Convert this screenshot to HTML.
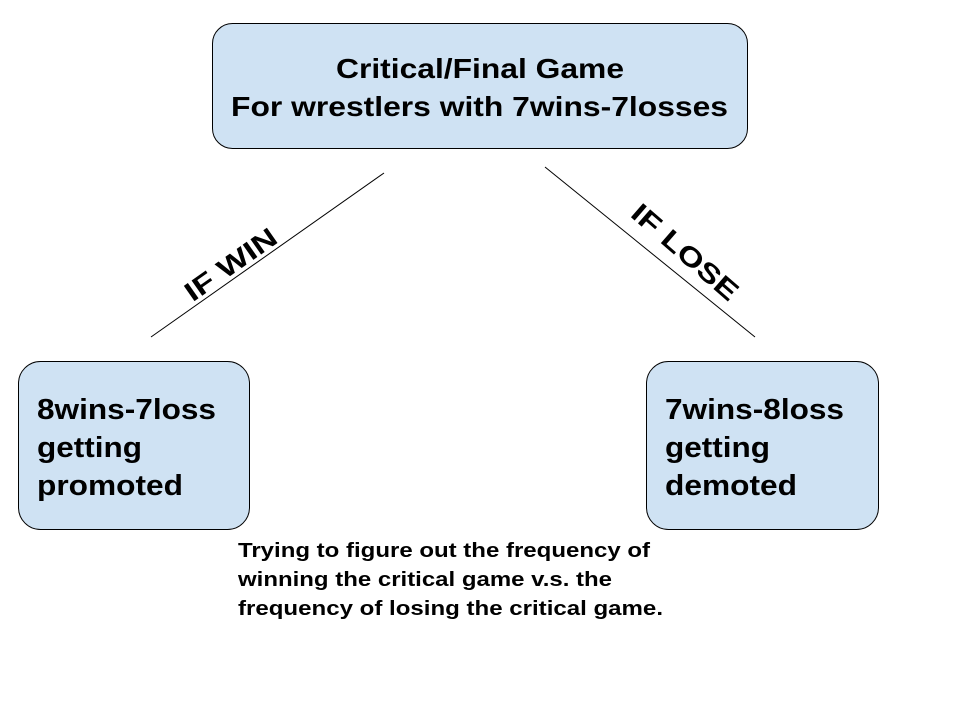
<!DOCTYPE html>
<html><head><meta charset="utf-8"><style>
body{margin:0;background:#fff;}
svg{display:block;}
text{font-family:"Liberation Sans",Arial,sans-serif;font-weight:bold;fill:#000;}
</style></head><body>
<svg width="960" height="720" viewBox="0 0 960 720">
<rect x="212.5" y="23.5" width="535" height="125" rx="20" fill="#cfe2f3" stroke="#000" stroke-width="1"/>
<text x="336" y="78" font-size="28" textLength="288" lengthAdjust="spacingAndGlyphs">Critical/Final Game</text>
<text x="231" y="116" font-size="28" textLength="497" lengthAdjust="spacingAndGlyphs">For wrestlers with 7wins-7losses</text>
<rect x="18.5" y="361.5" width="231" height="168" rx="22" fill="#cfe2f3" stroke="#000" stroke-width="1"/>
<text x="37" y="419" font-size="29" textLength="179" lengthAdjust="spacingAndGlyphs">8wins-7loss</text>
<text x="37" y="457" font-size="29" textLength="105" lengthAdjust="spacingAndGlyphs">getting</text>
<text x="37" y="495" font-size="29" textLength="146" lengthAdjust="spacingAndGlyphs">promoted</text>
<rect x="646.5" y="361.5" width="232" height="168" rx="22" fill="#cfe2f3" stroke="#000" stroke-width="1"/>
<text x="665" y="419" font-size="29" textLength="179" lengthAdjust="spacingAndGlyphs">7wins-8loss</text>
<text x="665" y="457" font-size="29" textLength="105" lengthAdjust="spacingAndGlyphs">getting</text>
<text x="665" y="495" font-size="29" textLength="132" lengthAdjust="spacingAndGlyphs">demoted</text>
<line x1="384" y1="173" x2="151" y2="337" stroke="#000" stroke-width="1"/>
<line x1="545" y1="167" x2="755" y2="337" stroke="#000" stroke-width="1"/>
<text x="-53" y="0" font-size="27" textLength="106" lengthAdjust="spacingAndGlyphs" transform="translate(236,272) rotate(-35)">IF WIN</text>
<text x="-66" y="0" font-size="27" textLength="132" lengthAdjust="spacingAndGlyphs" transform="translate(679,259) rotate(41)">IF LOSE</text>
<text x="238" y="557" font-size="20" textLength="412" lengthAdjust="spacingAndGlyphs">Trying to figure out the frequency of</text>
<text x="238" y="586" font-size="20" textLength="374" lengthAdjust="spacingAndGlyphs">winning the critical game v.s. the</text>
<text x="238" y="615" font-size="20" textLength="425" lengthAdjust="spacingAndGlyphs">frequency of losing the critical game.</text>
</svg>
</body></html>
